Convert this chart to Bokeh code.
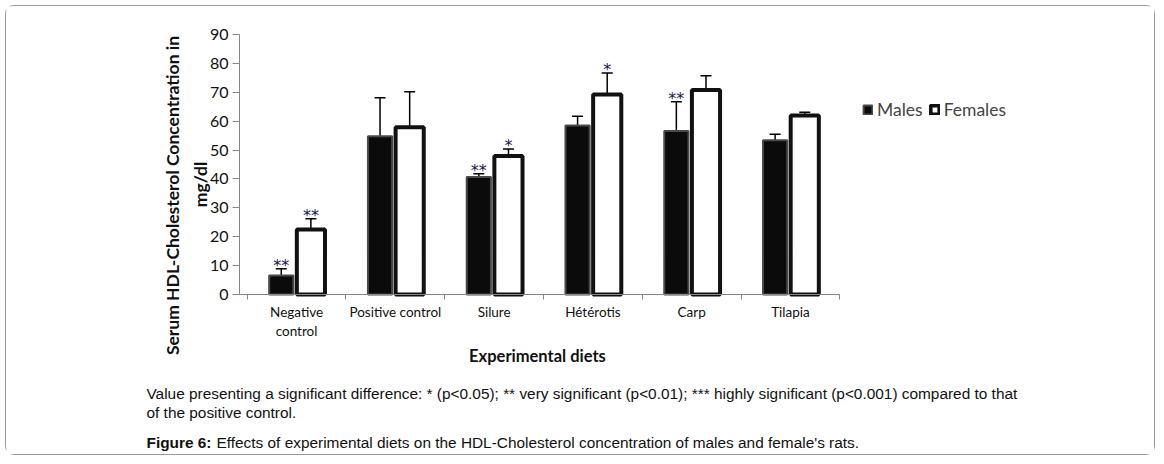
import math
from bokeh.plotting import figure
from bokeh.models import (FixedTicker, Whisker, TeeHead, Legend, LegendItem,
                          ColumnDataSource, Range1d)
from bokeh.core.properties import value
from bokeh.embed import file_html
from bokeh.resources import INLINE

# ---------------- data ----------------
diets = ["Negative\ncontrol", "Positive control", "Silure", "Hétérotis", "Carp", "Tilapia"]
males = [6.6, 54.8, 40.7, 58.5, 56.6, 53.4]
females = [22.5, 57.9, 47.9, 69.2, 70.8, 62.0]
males_err = [2.3, 13.3, 1.1, 3.2, 10.1, 2.1]
females_err = [3.7, 12.3, 2.5, 7.5, 4.9, 1.1]
males_sig = ["**", "", "**", "", "**", ""]
females_sig = ["**", "", "*", "*", "", ""]
y_ticks = [0, 10, 20, 30, 40, 50, 60, 70, 80, 90]
series_names = ["Males", "Females"]
y_title = ["Serum HDL-Cholesterol Concentration in", "mg/dl"]
x_title = "Experimental  diets"
note_lines = ["Value presenting a significant difference: * (p<0.05); ** very significant (p<0.01); "
              "*** highly significant (p<0.001) compared to that",
              "of the positive control."]
fig_label = "Figure 6:"
fig_caption = "Effects of experimental diets on the HDL-Cholesterol concentration of males and female's rats."

FONT = "Lato"
GREY = "#868686"
STAR = "#17174c"
INK = "#111111"

# page-pixel helpers (layout only): data x=0 at px 246.7, 98.77 px per category;
# data y=0 at py 294, 2.889 px per unit
PX0, PXU, PY0, PYU = 246.7, 98.77, 294.0, 260.0 / 90.0
def dx(px):
    return (px - PX0) / PXU
def dy(py):
    return (PY0 - py) / PYU

n = len(diets)
centers = [i + 0.5 for i in range(n)]
x_m = [c - 0.155 for c in centers]
x_f = [c + 0.145 for c in centers]

src_m = ColumnDataSource(dict(x=x_m, top=males, up=[v + e for v, e in zip(males, males_err)],
                              sig=males_sig))
src_f = ColumnDataSource(dict(x=x_f, top=females, up=[v + e for v, e in zip(females, females_err)],
                              sig=females_sig))

p = figure(width=1150, height=450, output_backend="svg", toolbar_location=None,
           x_range=Range1d(dx(6), dx(1156)), y_range=Range1d(dy(456), dy(6)),
           min_border=0)
p.styles = {"border": "1px solid #9a9a9a", "border-radius": "9px", "margin": "5px 0 0 5px"}
p.outline_line_color = None
p.xgrid.visible = False
p.ygrid.visible = False

rm = p.vbar(x="x", top="top", bottom=0, width=0.245, source=src_m,
            fill_color="#0b0b0b", line_color="#4a4a4a", line_width=2)
rf = p.vbar(x="x", top="top", bottom=0, width=0.285, source=src_f,
            fill_color="white", line_color=INK, line_width=4)

for src in (src_m, src_f):
    w = Whisker(base="x", lower="top", upper="up", source=src, dimension="height",
                line_color="black", line_width=1.5, lower_head=None,
                upper_head=TeeHead(size=11, line_color="black", line_width=1.5))
    p.add_layout(w)
    p.text(x="x", y="up", text="sig", source=src, text_align="center",
           text_baseline="alphabetic", y_offset=-3, text_color=STAR,
           text_font=value("DejaVu Sans"), text_font_size="16px")

# y axis
p.yaxis.fixed_location = dx(239)
p.yaxis.bounds = (0, 90)
p.yaxis.ticker = FixedTicker(ticks=y_ticks)
p.yaxis.axis_line_color = GREY
p.yaxis.major_tick_line_color = GREY
p.yaxis.major_tick_out = 7
p.yaxis.major_tick_in = 0
p.yaxis.minor_tick_line_color = None
p.yaxis.major_label_text_font = FONT
p.yaxis.major_label_text_font_size = "16px"
p.yaxis.major_label_text_color = INK
p.yaxis.major_label_standoff = 4

# x axis
p.xaxis.fixed_location = 0
p.xaxis.bounds = (dx(239), n)
p.xaxis.ticker = FixedTicker(ticks=centers, minor_ticks=list(range(n + 1)))
p.xaxis.major_label_overrides = {c: d for c, d in zip(centers, diets)}
p.xaxis.axis_line_color = GREY
p.xaxis.major_tick_line_color = None
p.xaxis.major_tick_out = 0
p.xaxis.major_tick_in = 0
p.xaxis.minor_tick_line_color = GREY
p.xaxis.minor_tick_out = 5
p.xaxis.minor_tick_in = 0
p.xaxis.major_label_text_font = FONT
p.xaxis.major_label_text_font_size = "13.5px"
p.xaxis.major_label_text_color = INK
p.xaxis.major_label_standoff = 4
p.xaxis.axis_label = x_title
p.xaxis.axis_label_text_font = FONT
p.xaxis.axis_label_text_font_style = "bold"
p.xaxis.axis_label_text_font_size = "16.5px"
p.xaxis.axis_label_text_color = INK
p.xaxis.axis_label_standoff = 4

# y title, two lines
p.text(x=[dx(172)], y=[dy(195)], text=[y_title[0]], angle=math.pi / 2,
       text_align="center", text_baseline="middle", text_color=INK,
       text_font=value(FONT), text_font_style="bold", text_font_size="17.5px")
p.text(x=[dx(200)], y=[dy(184)], text=[y_title[1]], angle=math.pi / 2,
       text_align="center", text_baseline="middle", text_color=INK,
       text_font=value(FONT), text_font_style="bold", text_font_size="17.5px")

# legend
legend = Legend(items=[LegendItem(label=series_names[0], renderers=[rm]),
                       LegendItem(label=series_names[1], renderers=[rf])],
                orientation="horizontal", location=(856, 336),
                label_text_font=FONT, label_text_font_size="17.5px",
                glyph_width=11, glyph_height=11, label_standoff=4, spacing=6,
                padding=0, margin=0, border_line_color=None, background_fill_alpha=0)
p.add_layout(legend)

# captions
cap = dict(text_font=value("Liberation Sans"), text_font_size="15.4px", text_color=INK,
           text_align="left", text_baseline="middle")
p.text(x=[dx(146), dx(146)], y=[dy(393), dy(412)], text=note_lines, **cap)
p.text(x=[dx(146)], y=[dy(442)], text=[fig_label], text_font_style="bold", **cap)
p.text(x=[dx(216)], y=[dy(442)], text=[fig_caption], **cap)

open("out.html", "w").write(file_html(p, INLINE))
